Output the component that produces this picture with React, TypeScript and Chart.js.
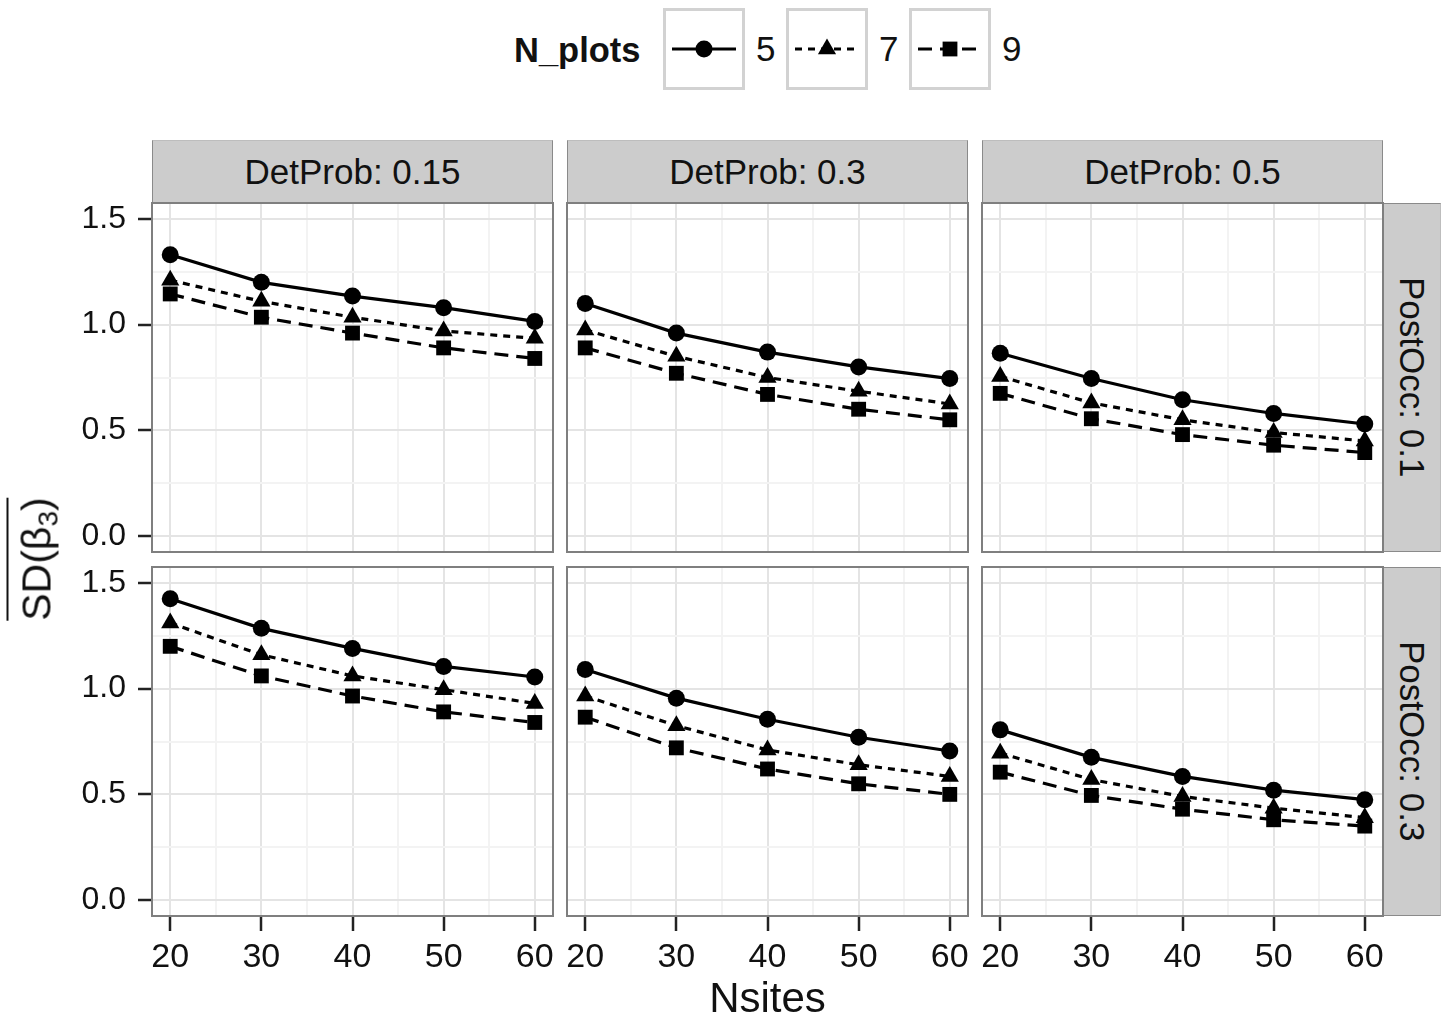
import React, { useEffect, useRef } from "react";
import { Chart, registerables } from "chart.js";

Chart.register(...registerables);

// ---------- data ----------
const nsites = [20, 30, 40, 50, 60];
const detProbLabels = ["DetProb: 0.15", "DetProb: 0.3", "DetProb: 0.5"];
const postOccLabels = ["PostOcc: 0.1", "PostOcc: 0.3"];
const nPlotsLabels = ["5", "7", "9"];
const xTickValues = [20, 25, 30, 35, 40, 45, 50, 55, 60];
const yTickValues = [0, 0.25, 0.5, 0.75, 1, 1.25, 1.5];

// PostOcc 0.1
const po01_dp015_n5 = [1.33, 1.2, 1.135, 1.08, 1.015];
const po01_dp015_n7 = [1.21, 1.11, 1.035, 0.97, 0.935];
const po01_dp015_n9 = [1.145, 1.035, 0.96, 0.89, 0.84];
const po01_dp03_n5 = [1.1, 0.96, 0.87, 0.8, 0.745];
const po01_dp03_n7 = [0.975, 0.85, 0.75, 0.685, 0.625];
const po01_dp03_n9 = [0.89, 0.77, 0.67, 0.6, 0.55];
const po01_dp05_n5 = [0.865, 0.745, 0.645, 0.58, 0.53];
const po01_dp05_n7 = [0.755, 0.63, 0.55, 0.49, 0.45];
const po01_dp05_n9 = [0.675, 0.555, 0.48, 0.43, 0.395];
// PostOcc 0.3
const po03_dp015_n5 = [1.425, 1.285, 1.19, 1.105, 1.055];
const po03_dp015_n7 = [1.31, 1.16, 1.06, 0.995, 0.93];
const po03_dp015_n9 = [1.2, 1.06, 0.965, 0.89, 0.84];
const po03_dp03_n5 = [1.09, 0.955, 0.855, 0.77, 0.705];
const po03_dp03_n7 = [0.965, 0.825, 0.71, 0.64, 0.585];
const po03_dp03_n9 = [0.865, 0.72, 0.62, 0.55, 0.5];
const po03_dp05_n5 = [0.805, 0.675, 0.585, 0.52, 0.475];
const po03_dp05_n7 = [0.695, 0.57, 0.49, 0.435, 0.39];
const po03_dp05_n9 = [0.605, 0.495, 0.43, 0.38, 0.35];

const panelSeries = [
  [
    [po01_dp015_n5, po01_dp015_n7, po01_dp015_n9],
    [po01_dp03_n5, po01_dp03_n7, po01_dp03_n9],
    [po01_dp05_n5, po01_dp05_n7, po01_dp05_n9],
  ],
  [
    [po03_dp015_n5, po03_dp015_n7, po03_dp015_n9],
    [po03_dp03_n5, po03_dp03_n7, po03_dp03_n9],
    [po03_dp05_n5, po03_dp05_n7, po03_dp05_n9],
  ],
];

// ---------- styles / layout ----------
const FONT = "'Liberation Sans', Arial, Helvetica, sans-serif";
const seriesStyle = [
  { dash: [] as number[], point: "circle", r: 8.5 },
  { dash: [7, 6], point: "triangle", r: 10.5 },
  { dash: [14, 8], point: "rect", r: 10.5 },
];
const PL = [152, 567, 982];
const PT = [203, 567];
const PW = 401;
const PH = 349;
const PAD = 44;
const YW = 80;
const XH = 70;
const STRIP_TOP = 140;
const STRIP_RIGHT_W = 58;

const panelBorder = {
  id: "panelBorder",
  afterDraw(chart: any) {
    const { ctx, chartArea: a } = chart;
    ctx.save();
    ctx.strokeStyle = "#7F7F7F";
    ctx.lineWidth = 2;
    ctx.strokeRect(a.left, a.top, a.width, a.height);
    ctx.restore();
  },
};

function Panel({ r, c }: { r: number; c: number }) {
  const ref = useRef<HTMLCanvasElement>(null);
  const showY = c === 0;
  const showX = r === 1;
  const w = PW + 2 * PAD + (showY ? YW : 0);
  const h = PH + 2 * PAD + (showX ? XH : 0);
  const left = PL[c] - PAD - (showY ? YW : 0);
  const top = PT[r] - PAD;

  useEffect(() => {
    const isMajorX = (v: number) => v % 10 === 0;
    const isMajorY = (v: number) => Math.abs(v * 2 - Math.round(v * 2)) < 1e-6;
    const chart = new Chart(ref.current as HTMLCanvasElement, {
      type: "line",
      data: {
        datasets: nPlotsLabels.map((lab, k) => ({
          label: lab,
          data: nsites.map((x, i) => ({ x, y: panelSeries[r][c][k][i] })),
          borderColor: "#000",
          backgroundColor: "#000",
          pointBackgroundColor: "#000",
          pointBorderColor: "#000",
          pointBorderWidth: 0,
          borderWidth: 3.2,
          borderDash: seriesStyle[k].dash,
          pointStyle: seriesStyle[k].point as any,
          pointRadius: seriesStyle[k].r,
          pointHoverRadius: seriesStyle[k].r,
          tension: 0,
          fill: false,
        })),
      },
      options: {
        animation: false,
        responsive: true,
        maintainAspectRatio: false,
        devicePixelRatio: 1,
        events: [],
        layout: { padding: PAD },
        plugins: { legend: { display: false }, tooltip: { enabled: false } },
        scales: {
          x: {
            type: "linear",
            min: 18,
            max: 62,
            afterBuildTicks: (s: any) => {
              s.ticks = xTickValues.map((v) => ({ value: v }));
            },
            afterFit: (s: any) => {
              s.height = showX ? XH : 0;
            },
            ticks: {
              display: showX,
              autoSkip: false,
              maxRotation: 0,
              minRotation: 0,
              padding: 6,
              color: "#111",
              font: { family: FONT, size: 34 },
              callback: (v: any) => (isMajorX(Number(v)) ? String(v) : ""),
            },
            grid: {
              color: (ctx: any) => (ctx.tick && isMajorX(ctx.tick.value) ? "#E4E4E4" : "#F3F3F3"),
              lineWidth: 2,
              drawTicks: showX,
              tickLength: 15,
              tickWidth: 2.5,
              tickColor: (ctx: any) => (ctx.tick && isMajorX(ctx.tick.value) ? "#222" : "rgba(0,0,0,0)"),
            },
            border: { display: false },
          },
          y: {
            type: "linear",
            min: -0.075,
            max: 1.575,
            afterBuildTicks: (s: any) => {
              s.ticks = yTickValues.map((v) => ({ value: v }));
            },
            afterFit: (s: any) => {
              s.width = showY ? YW : 0;
            },
            ticks: {
              display: showY,
              autoSkip: false,
              padding: 12,
              color: "#111",
              font: { family: FONT, size: 32 },
              callback: (v: any) => (isMajorY(Number(v)) ? Number(v).toFixed(1) : ""),
            },
            grid: {
              color: (ctx: any) => (ctx.tick && isMajorY(ctx.tick.value) ? "#E4E4E4" : "#F3F3F3"),
              lineWidth: 2,
              drawTicks: showY,
              tickLength: 14,
              tickWidth: 2.5,
              tickColor: (ctx: any) => (ctx.tick && isMajorY(ctx.tick.value) ? "#222" : "rgba(0,0,0,0)"),
            },
            border: { display: false },
          },
        },
      },
      plugins: [panelBorder],
    } as any);
    return () => chart.destroy();
  }, [r, c]);

  return (
    <div style={{ position: "absolute", left, top, width: w, height: h }}>
      <canvas ref={ref} />
    </div>
  );
}

function LegendKey({ k }: { k: number }) {
  const st = seriesStyle[k];
  const cx = 41;
  const cy = 41;
  let marker: React.ReactNode = null;
  if (st.point === "circle") marker = <circle cx={cx} cy={cy} r={8.5} fill="#000" />;
  else if (st.point === "triangle")
    marker = (
      <polygon
        points={`${cx},${cy - 10.5} ${cx + 9.1},${cy + 5.25} ${cx - 9.1},${cy + 5.25}`}
        fill="#000"
      />
    );
  else marker = <rect x={cx - 7.4} y={cy - 7.4} width={14.8} height={14.8} fill="#000" />;
  return (
    <svg width={82} height={82} style={{ position: "absolute", left: 0, top: 0 }}>
      <line
        x1={9}
        y1={cy}
        x2={73}
        y2={cy}
        stroke="#000"
        strokeWidth={3.2}
        strokeDasharray={st.dash.length ? st.dash.join(",") : undefined}
      />
      {marker}
    </svg>
  );
}

export default function App() {
  const keyLefts = [663, 786, 909];
  const textBase: React.CSSProperties = { fontFamily: FONT, color: "#111", position: "absolute", whiteSpace: "nowrap" };
  return (
    <div
      style={{
        position: "absolute",
        left: 0,
        top: 0,
        width: 1450,
        height: 1018,
        background: "#fff",
        overflow: "hidden",
        fontFamily: FONT,
      }}
    >
      {/* Legend */}
      <div style={{ ...textBase, left: 514, top: 30, fontSize: 34.5, fontWeight: "bold", lineHeight: "40px" }}>N_plots</div>
      {keyLefts.map((kl, k) => (
        <React.Fragment key={k}>
          <div
            style={{
              position: "absolute",
              left: kl,
              top: 8,
              width: 82,
              height: 82,
              boxSizing: "border-box",
              border: "3px solid #D2D2D2",
            }}
          >
            <div style={{ position: "absolute", left: -3, top: -3, width: 82, height: 82 }}>
              <LegendKey k={k} />
            </div>
          </div>
          <div style={{ ...textBase, left: kl + 93, top: 29, fontSize: 35, lineHeight: "40px" }}>{nPlotsLabels[k]}</div>
        </React.Fragment>
      ))}

      {/* Top strips */}
      {detProbLabels.map((lab, c) => (
        <div
          key={"ts" + c}
          style={{
            position: "absolute",
            left: PL[c],
            top: STRIP_TOP,
            width: PW,
            height: PT[0] - STRIP_TOP,
            boxSizing: "border-box",
            background: "#CCCCCC",
            border: "1.5px solid #8A8A8A",
            borderTopColor: "#BDBDBD",
            display: "flex",
            alignItems: "center",
            justifyContent: "center",
            fontSize: 35,
            color: "#111",
            fontFamily: FONT,
          }}
        >
          {lab}
        </div>
      ))}

      {/* Right strips */}
      {postOccLabels.map((lab, r) => (
        <div
          key={"rs" + r}
          style={{
            position: "absolute",
            left: PL[2] + PW,
            top: PT[r],
            width: STRIP_RIGHT_W,
            height: PH,
            boxSizing: "border-box",
            background: "#CCCCCC",
            border: "1.5px solid #8A8A8A",
            borderRightColor: "#BDBDBD",
            display: "flex",
            alignItems: "center",
            justifyContent: "center",
            fontSize: 35,
            color: "#111",
            fontFamily: FONT,
          }}
        >
          <span style={{ writingMode: "vertical-rl" }}>{lab}</span>
        </div>
      ))}

      {/* Panels */}
      {[0, 1].map((r) => [0, 1, 2].map((c) => <Panel key={`p${r}${c}`} r={r} c={c} />))}

      {/* Axis titles */}
      <div
        style={{
          ...textBase,
          left: (PL[0] + PL[2] + PW) / 2,
          top: 977,
          transform: "translateX(-50%)",
          fontSize: 42,
          lineHeight: "42px",
        }}
      >
        Nsites
      </div>
      <div
        style={{
          position: "absolute",
          left: 32,
          top: 559,
          transform: "translate(-50%, -50%) rotate(-90deg)",
          fontFamily: FONT,
          color: "#111",
          whiteSpace: "nowrap",
        }}
      >
        <span
          style={{
            display: "inline-block",
            borderTop: "2.5px solid #111",
            paddingTop: 8,
            fontSize: 41,
            lineHeight: 1,
          }}
        >
          SD(β<sub style={{ fontSize: 28, verticalAlign: "-7px", lineHeight: 0 }}>3</sub>)
        </span>
      </div>
    </div>
  );
}
